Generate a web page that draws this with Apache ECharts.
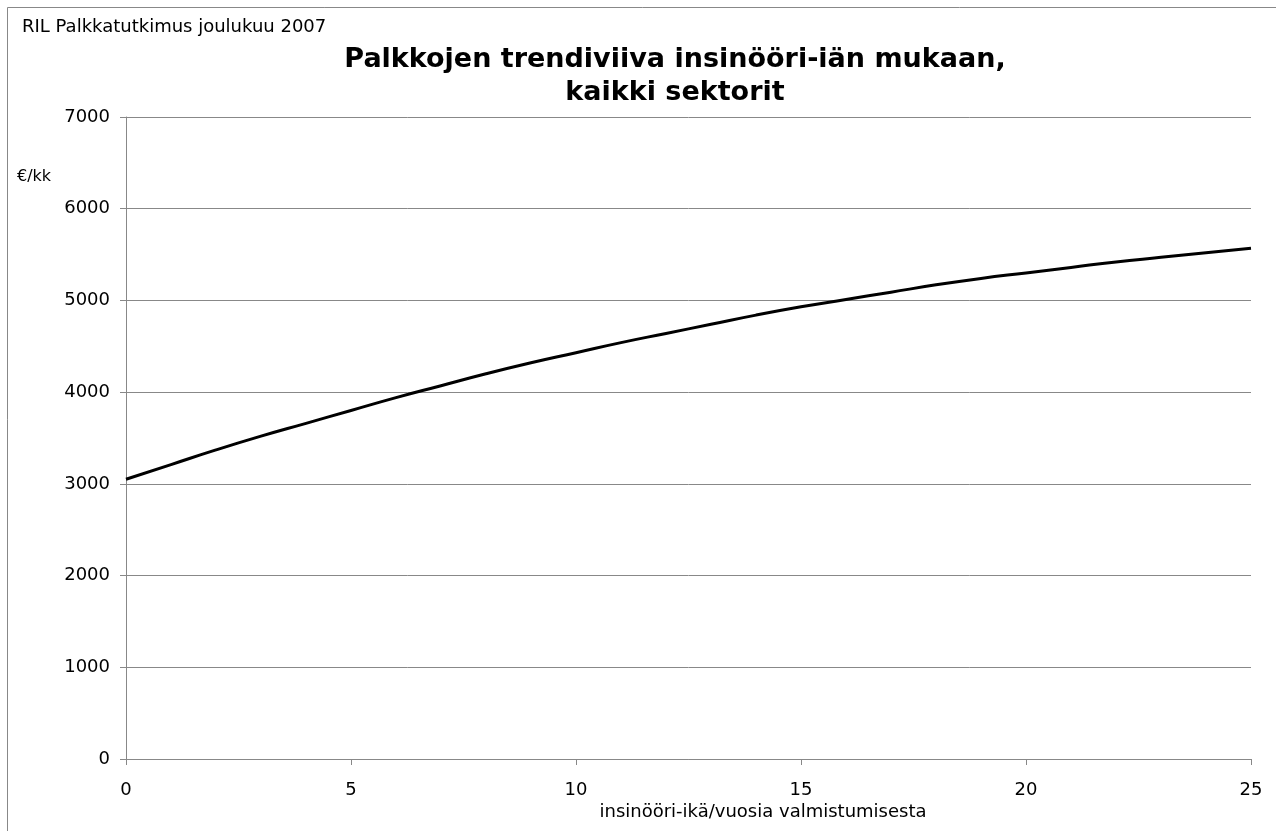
<!DOCTYPE html>
<html>
<head>
<meta charset="utf-8">
<script src="https://cdn.jsdelivr.net/npm/echarts@6/dist/echarts.min.js"></script>
<style>
  html, body { margin: 0; padding: 0; background: #fff; }
  #chart { width: 1276px; height: 831px; }
</style>
</head>
<body>
<div id="chart"></div>
<script>
// vuodet valmistumisesta ja trendin palkka (€/kk), luettu kuvasta
var years = [0, 1, 2, 3, 4, 5, 6, 7, 8, 9, 10, 11, 12, 13, 14, 15, 16, 17, 18, 19, 20, 21, 22, 23, 24, 25];
var salary = [3050, 3210, 3370, 3520, 3660, 3800, 3940, 4070, 4200, 4320, 4430, 4540, 4640, 4740, 4840, 4930, 5010, 5090, 5170, 5240, 5300, 5360, 5420, 5470, 5520, 5570];
var yTicks = [0, 1000, 2000, 3000, 4000, 5000, 6000, 7000];
var xTicks = [0, 5, 10, 15, 20, 25];

var font = 'DejaVu Sans, Arial, sans-serif';
var points = years.map(function (y, i) { return [y, salary[i]]; });

var chart = echarts.init(document.getElementById('chart'));
chart.setOption({
    backgroundColor: '#fff',
    animation: false,
    title: [{
        text: 'Palkkojen trendiviiva insinööri-iän mukaan,\nkaikki sektorit',
        left: 670,
        top: 38,
        textAlign: 'center',
        textStyle: { fontFamily: font, fontSize: 27, fontWeight: 'bold', color: '#000', lineHeight: 33 }
    }, {
        text: 'RIL Palkkatutkimus joulukuu 2007',
        left: 17,
        top: 13,
        textStyle: { fontFamily: font, fontSize: 18, fontWeight: 'normal', color: '#000' }
    }],
    graphic: [{
        type: 'rect',
        shape: { x: 7.5, y: 7.5, width: 1290, height: 840 },
        style: { fill: null, stroke: '#888', lineWidth: 1 }
    }, {
        type: 'text',
        x: 17,
        y: 169,
        style: { text: '€/kk', font: '16px ' + font, fill: '#000' }
    }, {
        type: 'text',
        x: 763,
        y: 803,
        style: { text: 'insinööri-ikä/vuosia valmistumisesta', font: '18px ' + font, fill: '#000', textAlign: 'center' }
    }],
    grid: { left: 126, right: 25, top: 117, bottom: 72, containLabel: false },
    xAxis: {
        type: 'value',
        min: 0,
        max: 25,
        interval: 5,
        axisLine: { lineStyle: { color: '#888', width: 1 } },
        axisTick: { show: true, length: 6, lineStyle: { color: '#888' } },
        axisLabel: {
            fontFamily: font, fontSize: 18, color: '#000', margin: 22,
            formatter: function (v) { return xTicks.indexOf(v) >= 0 ? String(v) : ''; }
        },
        splitLine: { show: false }
    },
    yAxis: {
        type: 'value',
        min: 0,
        max: 7000,
        interval: 1000,
        axisLine: { show: true, lineStyle: { color: '#888', width: 1 } },
        axisTick: { show: true, length: 6, lineStyle: { color: '#888' } },
        axisLabel: {
            fontFamily: font, fontSize: 18, color: '#000', margin: 16,
            formatter: function (v) { return yTicks.indexOf(v) >= 0 ? String(v) : ''; }
        },
        splitLine: { show: true, lineStyle: { color: '#888', width: 1 } }
    },
    series: [{
        type: 'line',
        data: points,
        smooth: true,
        showSymbol: false,
        lineStyle: { color: '#000', width: 3 }
    }]
});
</script>
</body>
</html>
